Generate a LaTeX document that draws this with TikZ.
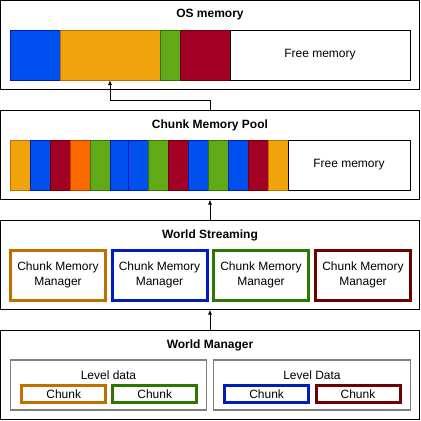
\documentclass[tikz,border=0pt]{standalone}
\usepackage{fontspec}
\setmainfont{Liberation Sans}
\usetikzlibrary{arrows.meta}
\definecolor{cBlue}{HTML}{0050EF}
\definecolor{sBlue}{HTML}{001DBC}
\definecolor{cOrange}{HTML}{F0A30A}
\definecolor{sOrange}{HTML}{BD7000}
\definecolor{cGreen}{HTML}{60A917}
\definecolor{sGreen}{HTML}{2D7600}
\definecolor{cRed}{HTML}{A20025}
\definecolor{sRed}{HTML}{6F0000}
\definecolor{cOR}{HTML}{FA6800}
\definecolor{sOR}{HTML}{C73500}
\definecolor{lvlgray}{HTML}{808080}
\begin{document}
\begin{tikzpicture}[x=1pt,y=-1pt,
  panel/.style={draw=black, line width=1pt, inner sep=0pt, outer sep=0pt, minimum width=419pt, minimum height=89pt},
  title/.style={font=\fontsize{12}{14}\selectfont\bfseries, inner sep=0pt},
  lbl/.style={font=\fontsize{12}{14.5}\selectfont, inner sep=0pt, align=center},
  seg/.style={line width=0.8pt, inner sep=0pt, outer sep=0pt, minimum height=50pt},
  sblue/.style={seg, draw=sBlue, fill=cBlue},
  sorange/.style={seg, draw=sOrange, fill=cOrange},
  sgreen/.style={seg, draw=sGreen, fill=cGreen},
  sred/.style={seg, draw=sRed, fill=cRed},
  sor/.style={seg, draw=sOR, fill=cOR},
  sfree/.style={seg, draw=black, fill=white, font=\fontsize{12}{14}\selectfont},
  mgr/.style={line width=3pt, fill=white, inner sep=0pt, outer sep=0pt, minimum width=95pt, minimum height=50pt, align=center, font=\fontsize{12}{14.5}\selectfont},
  lvl/.style={draw=lvlgray, line width=1.5pt, inner sep=0pt, outer sep=0pt, minimum height=50pt},
  chk/.style={line width=3pt, fill=white, inner sep=0pt, outer sep=0pt, minimum width=84pt, minimum height=17pt, font=\fontsize{12}{14}\selectfont},
  arr/.style={draw=black, line width=1pt, -{Latex[length=5pt,width=4pt]}}
]
\useasboundingbox (0,0) rectangle (421,421);
\fill[white] (0,0) rectangle (421,421);

% ---------- OS memory ----------
\node[panel] (os) at (210,45) {};
\node[title] (ostitle) at (210,15) {OS memory};
\node[sblue, minimum width=50pt] (os1) at (35,55) {};
\node[sorange, minimum width=100pt] (os2) at (110,55) {};
\node[sgreen, minimum width=20pt] (os3) at (170,55) {};
\node[sred, minimum width=50pt] (os4) at (205,55) {};
\node[sfree, minimum width=180pt] (os5) at (320,55) {Free memory};

% ---------- Chunk Memory Pool ----------
\node[panel] (pool) at (210,155) {};
\node[title] (pooltitle) at (210,125) {Chunk Memory Pool};
\node[sorange, minimum width=20pt] (p1) at (20,165) {};
\node[sblue, minimum width=20pt] (p2) at (40,165) {};
\node[sred, minimum width=20pt] (p3) at (60,165) {};
\node[sor, minimum width=20pt] (p4) at (80,165) {};
\node[sgreen, minimum width=20pt] (p5) at (100,165) {};
\node[sblue, minimum width=18pt] (p6) at (119,165) {};
\node[sblue, minimum width=20pt] (p7) at (138,165) {};
\node[sgreen, minimum width=20pt] (p8) at (158,165) {};
\node[sred, minimum width=20pt] (p9) at (178,165) {};
\node[sblue, minimum width=20pt] (p10) at (198,165) {};
\node[sgreen, minimum width=20pt] (p11) at (218,165) {};
\node[sblue, minimum width=20pt] (p12) at (238,165) {};
\node[sred, minimum width=20pt] (p13) at (258,165) {};
\node[sorange, minimum width=20pt] (p14) at (278,165) {};
\node[sfree, minimum width=122pt] (p15) at (349,165) {Free memory};

% ---------- World Streaming ----------
\node[panel] (ws) at (210,265) {};
\node[title] (wstitle) at (210,235) {World Streaming};
\node[mgr, draw=sOrange] (m1) at (58,275) {Chunk Memory\\Manager};
\node[mgr, draw=sBlue] (m2) at (159.5,275) {Chunk Memory\\Manager};
\node[mgr, draw=sGreen] (m3) at (261,275) {Chunk Memory\\Manager};
\node[mgr, draw=sRed] (m4) at (363,275) {Chunk Memory\\Manager};

% ---------- World Manager ----------
\node[panel] (wm) at (210,375) {};
\node[title] (wmtitle) at (210,345) {World Manager};
\node[lvl, minimum width=196pt] (lv1) at (108.5,385) {};
\node[lvl, minimum width=197pt] (lv2) at (312,385) {};
\node[lbl] (lv1t) at (108.5,375) {Level data};
\node[lbl] (lv2t) at (312,375) {Level Data};
\node[chk, draw=sOrange] (c1) at (63.75,394) {Chunk};
\node[chk, draw=sGreen] (c2) at (154.75,394) {Chunk};
\node[chk, draw=sBlue] (c3) at (266.6,394) {Chunk};
\node[chk, draw=sRed] (c4) at (358,394) {Chunk};

% ---------- connectors ----------
\draw[arr] (pool.north) -- ++(0,-10) -| (os2.south);
\draw[arr] (ws.north) -- (pool.south);
\draw[arr] (wm.north) -- (ws.south);
\end{tikzpicture}
\end{document}
